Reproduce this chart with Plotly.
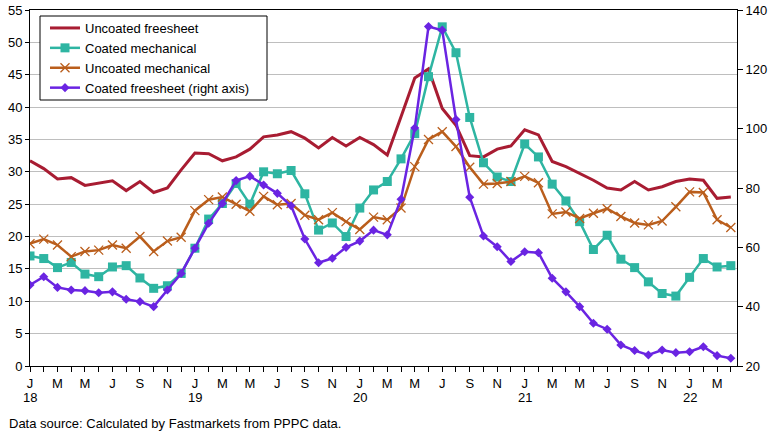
import plotly.graph_objects as go

months = list(range(52))  # Jan 2018 .. Apr 2022

uncoated_freesheet = [31.7, 30.5, 28.9, 29.1, 27.9, 28.2, 28.6, 27.1, 28.5, 26.8, 27.5, 30.3,
                      32.9, 32.8, 31.7, 32.3, 33.5, 35.4, 35.7, 36.2, 35.2, 33.7, 35.3, 34.0,
                      35.3, 34.2, 32.6, 38.5, 44.5, 45.9, 39.8, 37.2, 32.5, 32.3, 33.5, 34.0,
                      36.5, 35.7, 31.6, 30.8, 29.8, 28.7, 27.5, 27.2, 28.5, 27.2, 27.7, 28.5,
                      28.9, 28.7, 25.9, 26.1]
coated_mechanical = [17.0, 16.6, 15.2, 16.0, 14.2, 13.8, 15.3, 15.5, 13.6, 12.0, 12.4, 14.3,
                     18.2, 22.7, 25.1, 28.2, 25.0, 30.0, 29.7, 30.2, 26.6, 21.0, 22.1, 20.0,
                     24.4, 27.2, 28.5, 32.0, 35.9, 44.7, 52.4, 48.4, 38.4, 31.4, 29.2, 28.5,
                     34.3, 32.3, 28.1, 25.5, 22.3, 18.0, 20.2, 16.5, 15.2, 13.0, 11.2, 10.8,
                     13.7, 16.6, 15.3, 15.5]
uncoated_mechanical = [18.9, 19.6, 18.7, 16.9, 17.7, 17.9, 18.7, 18.2, 20.0, 17.7, 19.3, 19.9,
                       24.0, 25.7, 26.1, 25.0, 23.9, 26.2, 24.9, 25.1, 23.3, 22.6, 23.7, 22.3,
                       21.1, 23.0, 22.6, 24.4, 30.8, 35.0, 36.2, 33.9, 30.7, 28.1, 28.2, 28.5,
                       29.3, 28.3, 23.5, 23.8, 22.8, 23.6, 24.3, 23.1, 22.1, 21.8, 22.4, 24.6,
                       26.9, 26.8, 22.6, 21.4]
coated_freesheet = [47.3, 50.1, 46.5, 45.6, 45.4, 44.7, 45.0, 42.5, 41.7, 40.0, 45.6, 51.2,
                    59.7, 68.1, 74.8, 82.5, 84.0, 81.0, 78.2, 74.0, 62.8, 54.8, 56.3, 60.0,
                    62.1, 65.8, 64.2, 76.2, 100.2, 134.4, 133.2, 103.1, 76.9, 63.8, 60.2, 55.2,
                    58.5, 58.2, 49.6, 45.0, 40.0, 34.4, 32.4, 27.1, 25.2, 23.7, 25.4, 24.5,
                    24.8, 26.5, 23.5, 22.6]

month_letters = {0: "J", 2: "M", 4: "M", 6: "J", 8: "S", 10: "N"}
tick_text = [month_letters.get(i % 12, "") for i in months]
year_positions = [0, 12, 24, 36, 48]
year_labels = ["18", "19", "20", "21", "22"]

FONT = "Liberation Sans, Arial, sans-serif"
PW, PH = 707, 356  # plot area size in px

fig = go.Figure()
fig.add_trace(go.Scatter(x=months, y=uncoated_freesheet, name="Uncoated freesheet",
                         mode="lines", line=dict(color="#A81C32", width=3)))
fig.add_trace(go.Scatter(x=months, y=coated_mechanical, name="Coated mechanical",
                         mode="lines+markers", line=dict(color="#2EB5A2", width=2.5),
                         marker=dict(symbol="square", size=9, color="#2EB5A2")))
fig.add_trace(go.Scatter(x=months, y=uncoated_mechanical, name="Uncoated mechanical",
                         mode="lines+markers", line=dict(color="#BA5E1C", width=2.5),
                         marker=dict(symbol="x-thin", size=9, line=dict(color="#BA5E1C", width=1.3))))
fig.add_trace(go.Scatter(x=months, y=coated_freesheet, name="Coated freesheet (right axis)",
                         mode="lines+markers", yaxis="y2",
                         line=dict(color="#6A24E2", width=2.5),
                         marker=dict(symbol="diamond", size=7, color="#6A24E2")))

fig.update_layout(
    width=777, height=436,
    margin=dict(l=30, r=40, t=10, b=70, autoexpand=False),
    paper_bgcolor="white", plot_bgcolor="white",
    font=dict(family=FONT, size=13, color="black"),
    xaxis=dict(range=[0, 51.45], tickmode="array", tickvals=months, ticktext=tick_text,
               automargin=False,
               showgrid=False, zeroline=False, showline=True, linecolor="black", linewidth=1,
               mirror=True, ticks="outside", ticklen=5, tickcolor="black", tickangle=0,
               tickfont=dict(family=FONT, size=13, color="black")),
    yaxis=dict(range=[0, 55], dtick=5, showgrid=True, gridcolor="#BEBEBE", gridwidth=1,
               automargin=False,
               zeroline=False, showline=True, linecolor="black", linewidth=1,
               ticks="outside", ticklen=4, tickcolor="black",
               tickfont=dict(family=FONT, size=13, color="black")),
    yaxis2=dict(range=[20, 140], dtick=20, overlaying="y", side="right", showgrid=False,
                automargin=False,
                zeroline=False, showline=True, linecolor="black", linewidth=1,
                ticks="outside", ticklen=5, tickcolor="black",
                tickfont=dict(family=FONT, size=13, color="black")),
    legend=dict(x=(45 - 30) / PW, y=(366 - 13) / PH, xanchor="left", yanchor="top",
                bgcolor="rgba(0,0,0,0)", borderwidth=0,
                font=dict(family=FONT, size=13, color="black")),
    showlegend=True,
)

# legend frame
fig.add_shape(type="rect", xref="paper", yref="paper",
              x0=(40 - 30) / PW, x1=(267 - 30) / PW,
              y0=(366 - 100) / PH, y1=(366 - 16) / PH,
              line=dict(color="black", width=1), fillcolor="white", layer="above")

for xp, lab in zip(year_positions, year_labels):
    fig.add_annotation(text=lab, x=xp, xref="x", yref="paper", y=-(397 - 366) / PH,
                       xanchor="center", yanchor="middle", showarrow=False,
                       font=dict(family=FONT, size=13, color="black"))

fig.add_annotation(text="Data source: Calculated by Fastmarkets from PPPC data.",
                   xref="paper", yref="paper", x=-23 / PW, y=-(423 - 366) / PH,
                   xanchor="left", yanchor="middle", showarrow=False,
                   font=dict(family=FONT, size=13, color="black"))

fig.write_html("out.html", config={"displayModeBar": False},
               post_script="document.body.style.margin='0';")
